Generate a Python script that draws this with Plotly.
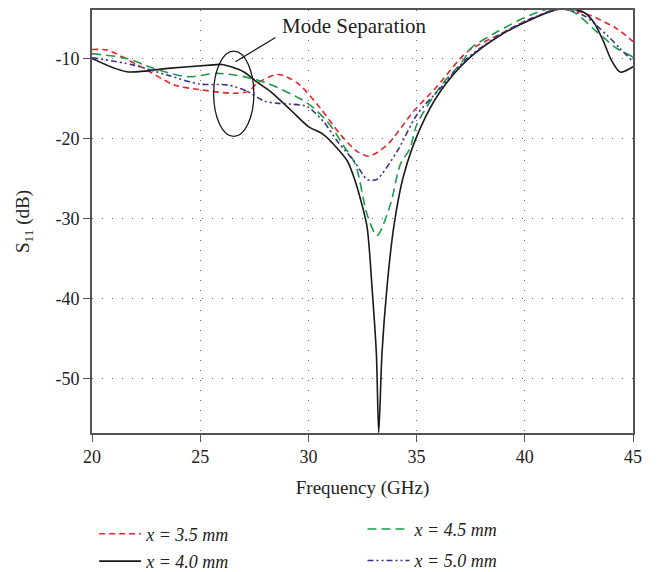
import plotly.graph_objects as go

# ---- data ----
f_35 = [20.0, 20.7, 22.24, 23.8, 25.0, 26.55, 27.24, 27.63, 28.55, 29.0, 29.6, 30.55, 31.48,
        32.25, 32.79, 33.63, 34.86, 35.94, 37.33, 38.9, 40.4, 41.8, 43.0, 44.26, 45.0]
s_35 = [-8.88, -8.96, -11.0, -13.3, -13.9, -14.35, -14.1, -13.1, -12.0, -12.3, -13.3, -16.2, -19.5,
        -21.6, -22.2, -20.8, -16.6, -13.5, -9.2, -6.9, -4.9, -3.8, -4.6, -6.3, -7.9]

f_40 = [20.0, 21.6, 23.5, 25.6, 26.0, 27.0, 27.6, 28.24, 29.17, 30.0, 30.7, 31.33, 31.8, 32.1, 32.4,
        32.71, 32.94, 33.14, 33.25, 33.4, 33.63, 33.94, 34.4, 35.17, 36.1, 37.33, 38.87, 40.4,
        41.64, 42.7, 43.18, 43.64, 44.0, 44.41, 45.0]
s_40 = [-10.0, -11.65, -11.24, -10.8, -10.75, -11.65, -12.9, -14.1, -16.4, -18.5, -19.5, -21.2, -22.8, -24.8, -27.5,
        -31.0, -38.6, -46.8, -56.7, -46.8, -38.6, -31.1, -24.6, -18.7, -14.1, -10.2, -7.1, -5.0,
        -3.8, -4.2, -5.44, -7.9, -10.2, -11.7, -11.03]

f_45 = [20.0, 21.6, 22.85, 24.4, 25.8, 27.0, 28.1, 29.6, 30.25, 31.0, 31.6, 32.17, 32.71, 33.17, 33.79,
        34.25, 34.7, 35.0, 36.1, 37.17, 37.48, 38.7, 40.25, 41.3, 42.25, 43.34, 44.26, 45.0]
s_45 = [-9.4, -10.0, -11.24, -12.27, -11.86, -12.27, -13.1, -15.0, -16.2, -18.3, -20.8, -23.2, -29.45, -32.1, -28.2,
        -23.2, -21.2, -18.3, -13.5, -10.2, -8.8, -6.7, -4.6, -3.7, -4.2, -6.7, -8.76, -9.8]

f_50 = [20.0, 21.9, 23.47, 25.0, 26.25, 27.17, 27.94, 28.6, 29.17, 29.94, 30.7, 31.33, 32.1, 32.71, 32.94, 33.17,
        34.1, 35.02, 36.1, 37.33, 38.87, 40.4, 41.6, 42.7, 43.8, 44.4, 45.0]
s_50 = [-9.9, -10.8, -12.07, -13.2, -13.3, -14.1, -15.3, -15.6, -15.7, -16.0, -17.9, -20.3, -22.8, -25.1, -25.2, -25.1,
        -21.6, -17.0, -13.7, -10.0, -7.0, -4.9, -3.8, -4.6, -7.1, -8.76, -10.4]

x_ticks = [20, 25, 30, 35, 40, 45]
y_ticks = [-10, -20, -30, -40, -50]
y_labels = ["-10", "-20", "-30", "-40", "-50"]

FONT = "Liberation Serif, DejaVu Serif, serif"

fig = go.Figure()
series = [
    (f_35, s_35, "x = 3.5 mm", "#e8242c", "6px,4px", "legend", "g1"),
    (f_40, s_40, "x = 4.0 mm", "#1a1a1a", "solid", "legend", "g2"),
    (f_45, s_45, "x = 4.5 mm", "#1f9a4a", "9px,5px", "legend2", "g3"),
    (f_50, s_50, "x = 5.0 mm", "#3b2f8f", "6px,3px,2px,3px,2px,3px", "legend2", "g4"),
]
for fx, sy, name, col, dash, leg, grp in series:
    fig.add_trace(go.Scatter(
        x=fx, y=sy, mode="lines", name=name, legend=leg, legendgroup=grp,
        line=dict(color=col, width=1.6, dash=dash, shape="spline", smoothing=0.8),
    ))

# annotation: ellipse, pointer line and label
fig.add_shape(type="circle", xref="x", yref="y", x0=25.62, x1=27.48, y0=-19.73, y1=-9.09,
              line=dict(color="#1a1a1a", width=1.3))
fig.add_shape(type="line", xref="x", yref="y", x0=28.48, y0=-7.39, x1=26.63, y1=-10.41,
              line=dict(color="#1a1a1a", width=1.3))
fig.add_annotation(x=28.7, y=-5.94, xref="x", yref="y", text="Mode Separation",
                   showarrow=False, xanchor="left", yanchor="middle",
                   font=dict(family=FONT, size=21, color="#222"))

axis_common = dict(
    showline=True, linecolor="#555", linewidth=1.6, mirror=True,
    ticks="outside", ticklen=7, tickwidth=1.3, tickcolor="#555",
    showgrid=True, gridcolor="#666", gridwidth=1, griddash="1px,9px",
    zeroline=False, tickfont=dict(family=FONT, size=18, color="#222"),
)
fig.update_xaxes(range=[20, 45], tickvals=x_ticks,
                 title=dict(text="Frequency (GHz)", font=dict(family=FONT, size=19, color="#222"), standoff=14),
                 **axis_common)
fig.update_yaxes(range=[-56.75, -3.95], tickvals=y_ticks, ticktext=y_labels,
                 title=dict(text="S<sub>11</sub> (dB)", font=dict(family=FONT, size=19, color="#222"), standoff=21),
                 **axis_common)

legend_font = dict(family=FONT, size=18, color="#222", style="italic")
fig.update_layout(
    width=661, height=572,
    margin=dict(l=84, r=36, t=0, b=147),
    plot_bgcolor="white", paper_bgcolor="white",
    legend=dict(x=0.004, y=-0.195, xanchor="left", yanchor="top", font=legend_font,
                tracegroupgap=1, itemwidth=42, bgcolor="rgba(0,0,0,0)"),
    legend2=dict(x=0.50, y=-0.184, xanchor="left", yanchor="top", font=legend_font,
                 tracegroupgap=5, itemwidth=42, bgcolor="rgba(0,0,0,0)"),
    showlegend=True,
)

fig.write_html("out.html")
